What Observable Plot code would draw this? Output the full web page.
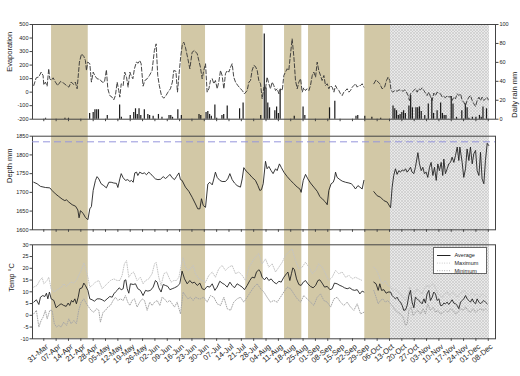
<!DOCTYPE html>
<html><head><meta charset="utf-8">
<script src="https://cdn.jsdelivr.net/npm/d3@7"></script>
<script src="https://cdn.jsdelivr.net/npm/@observablehq/plot@0.6"></script>
<style>
body{margin:0;background:#fff;}
#chart{position:relative;width:520px;height:376px;font-family:"Liberation Sans",Arial,sans-serif;}
#chart svg{position:absolute;left:0;top:0;overflow:visible;}
#legend{position:absolute;left:433px;top:247px;width:52px;height:25px;border:1px solid #666;background:#fff;}
</style></head><body><div id="chart"></div>
<script>
// day offsets are counted from 31-Mar (day 0)
const startDate = Date.UTC(2008, 2, 31);
const tickDays = d3.range(0, 253, 7);
const tickLabels = ["31-Mar","07-Apr","14-Apr","21-Apr","28-Apr","05-May","12-May","19-May","26-May","02-Jun","09-Jun","16-Jun","23-Jun","30-Jun","07-Jul","14-Jul","21-Jul","28-Jul","04-Aug","11-Aug","18-Aug","25-Aug","01-Sep","08-Sep","15-Sep","22-Sep","29-Sep","06-Oct","13-Oct","20-Oct","27-Oct","03-Nov","10-Nov","17-Nov","24-Nov","01-Dec","08-Dec"];
const xDomainDays = [-6.4, 256.1];

// shaded periods [startDay, endDay]
const bands = [[4.4,25.2],[78.1,91.7],[114.5,124.4],[136.5,146.3],[150.1,162.6],[182,196.6]];
const hatched = [[196.6,252.7]];

const evapTicks = [-200,-100,0,100,200,300,400,500];
const rainTicks = [0,20,40,60,80,100];
const depthTicks = [1600,1650,1700,1750,1800,1850];
const tempTicks = [-10,-5,0,5,10,15,20,25,30];
const targetDepth = 1835;

// Evaporation [day, value]
const evaporation = [[-5.7,49],[-4.3,106],[-2.8,113],[-1.5,148],[-0.4,123],[0,54],[0.9,74],[1.9,44],[2.8,173],[3.4,99],[4.2,86],[5.3,106],[6.6,74],[7.9,49],[9.5,79],[11.3,66],[12.9,49],[14.2,37],[15.5,74],[17,57],[17.9,74],[18.9,25],[20.2,222],[21.4,283],[22.7,264],[23.6,234],[24.2,160],[24.9,222],[26.1,210],[27,74],[28,148],[28.9,123],[30.2,99],[31.8,94],[33.1,74],[34.4,74],[35.5,165],[36.3,25],[37.4,-25],[38.7,-37],[39.7,-57],[40.6,-25],[41.6,74],[42.5,12],[43.1,-37],[43.9,62],[45,49],[45.9,148],[46.9,111],[47.8,37],[48.8,148],[49.5,123],[50.5,99],[51.4,173],[52.5,222],[53.5,214],[54.4,234],[55.2,210],[56.3,44],[57.3,86],[58.6,99],[59.9,123],[61.4,160],[62.7,308],[63.7,357],[64.6,123],[65.5,49],[66.7,-25],[68,-45],[69.3,-25],[70.4,0],[71.8,25],[72.9,74],[73.7,160],[74.9,155],[75.8,0],[76.7,136],[77.7,271],[78.6,357],
[79.4,369],[80.3,332],[81.7,246],[82.8,173],[84.1,295],[85.4,308],[87,283],[87.9,234],[88.8,185],[89.8,99],[90.7,160],[91.7,210],[92.6,0],[93.6,25],[94.5,86],[95.5,99],[96.4,62],[97.3,86],[98.3,25],[99.2,74],[100.2,160],[101.1,123],[102.1,25],[103,136],[104,160],[104.9,148],[105.9,185],[106.8,210],[107.7,111],[108.7,74],[110,49],[111.1,32],[112.5,12],[113.8,-12],[115.3,12],[116.3,74],[117.2,86],[118.1,160],[119.1,197],[120,190],[121,160],[121.9,86],[122.9,62],[123.8,-49],[124.8,37],[125.7,25],[126.6,111],[127.6,62],[128.5,25],[129.5,74],[130.4,49],[131.4,12],[132.3,25],[133.3,-12],[134.2,25],[135.2,12],[136.1,123],[137,148],[138,173],[138.9,160],[139.9,283],[140.8,394],[141.8,259],[142.7,86],[143.7,25],[144.6,74],[145.6,99],[146.5,0],[147.4,32],[148.4,12],[149.3,25],[150.3,12],[151.2,49],[152.2,123],[153.1,148],[154.1,111],[155,222],[155.9,160],[156.9,123],[157.8,86],[158.8,123],[159.7,49],[160.7,62],[161.6,25],[162.6,49],[163.5,37],[164.5,0],[165.4,49],[166.3,25],[167.3,12],[168.2,-12],[169.2,-25],[170.1,0],[171.1,12],[172,25],[173,0],[173.9,12],[174.9,37],[175.8,49],[176.7,62],[177.7,37],[178.6,49],[179.6,49],[180.5,62],[181.5,37],[184,null],
[187.1,62],[188.4,91],[189.6,74],[190.5,62],[191.8,25],[193.2,37],[194.3,86],[195.2,111],[196.2,86],[196.9,12],[197.9,0],[199,12],[200.3,7],[201.5,17],[202.6,12],[203.7,7],[204.7,17],[205.6,0],[206.6,-25],[207.3,-62],[207.9,-12],[208.8,0],[209.8,12],[210.7,25],[211.7,0],[212.6,25],[213.6,17],[214.5,32],[215.5,12],[216.4,-7],[217.3,-25],[218.3,0],[219.2,-32],[220.2,-62],[221.1,-7],[222.1,-25],[223,0],[224,-7],[224.9,-12],[225.9,-37],[226.8,-32],[227.7,-42],[228.7,-25],[229.6,-37],[230.6,-32],[231.5,-62],[232.5,-37],[233.4,-49],[234.4,-12],[235.3,-25],[236.3,-12],[237.2,-62],[238.1,-74],[239.1,-99],[240,-62],[241,-37],[241.9,-25],[242.9,-62],[243.8,-86],[244.8,-106],[245.7,-62],[246.7,-37],[247.6,-62],[248.5,-37],[249.5,-62],[250.4,-49],[251.4,-37],[252,-57]];

// Daily rain mm [day, mm]
const rain = [[1,1],[12,1],[14,1],[26,6],[28,7],[29,10],[30,10],[31,10],[36,4],[43,15],[44,2],[49,4],[51,7],[52,11],[53,5],[54,11],[55,4],[57,10],[59,5],[60,4],[62,3],[65,5],[67,2],[71,4],[72,4],[73,2],[76,10],[78,4],[88,5],[89,4],[92,7],[93,8],[94,5],[95,3],[97,15],[98,1],[101,4],[102,5],[104,14],[111,11],[113,17],[123,4],[125,90],[126,33],[127,17],[128,12],[131,9],[132,13],[133,6],[134,31],[142,3],[147,13],[148,4],[162,12],[165,19],[177,3],[178,4],[182,3],[186,2],[191,1],[198,14],[199,11],[200,9],[201,4],[202,5],[203,7],[204,9],[205,6],[207,14],[208,25],[209,12],[211,12],[212,12],[213,13],[214,8],[216,4],[218,16],[220,22],[221,6],[223,9],[225,17],[226,6],[227,4],[228,4],[231,24],[232,16],[234,2],[237,9],[239,16],[240,12],[241,1],[243,2],[245,2],[247,4],[248,2],[249,13],[251,11]];

// Depth mm [day, value]
const depth = [[-5.7,1727],[-3.8,1723],[-1.9,1716],[0.9,1713],[3.4,1712],[4.7,1705],[6.6,1696],[8.5,1689],[10.4,1682],[11.9,1678],[12.9,1680],[14.2,1674],[16.1,1667],[18,1663],[19.3,1653],[20,1632],[20.8,1651],[22.3,1644],[23.6,1633],[25,1627],[26.1,1656],[27,1662],[28,1705],[29.3,1732],[30.2,1742],[31.2,1736],[32.5,1723],[34,1718],[35.5,1712],[36.9,1727],[38.2,1727],[39.7,1725],[41.2,1724],[42,1713],[43.1,1736],[43.9,1750],[45,1739],[46.3,1732],[47.6,1734],[48.8,1729],[49.7,1732],[50.7,1727],[51.6,1752],[52.6,1754],[53.3,1745],[54.4,1754],[55.8,1750],[57.1,1752],[58.2,1747],[59.5,1754],[60.5,1750],[62,1742],[63.3,1736],[64.7,1734],[66.2,1735],[67.7,1742],[69,1737],[70.3,1742],[71.5,1748],[72.8,1739],[74.1,1734],[75.2,1742],[76.6,1752],[77.5,1734],
[78.4,1732],[80.3,1714],[82.2,1703],[84.1,1687],[86,1669],[87.3,1656],[88.5,1656],[89.4,1683],[90.4,1665],[91.7,1660],[93,1722],[94.1,1727],[95.5,1720],[96.4,1736],[97.3,1754],[98.3,1740],[99.8,1732],[101.1,1729],[103,1729],[104.3,1736],[105.5,1750],[106.8,1734],[108.1,1725],[109.6,1718],[111.5,1714],[112.5,1736],[113.4,1766],[114.7,1757],[116.3,1750],[118.1,1740],[120,1732],[121.4,1718],[122.5,1705],[123.4,1707],[124.4,1723],[125.7,1783],[126.6,1763],[127.6,1769],[128.9,1758],[130,1750],[131.4,1763],[132.3,1758],[133.6,1776],[134.6,1767],[136.1,1754],[138,1742],[139.9,1732],[141.8,1723],[143.7,1714],[145.2,1709],[145.9,1700],[147.1,1732],[148.4,1748],[149.7,1736],[151.2,1725],[153.1,1714],[155,1703],[156.5,1689],[158.4,1680],[159.7,1674],[160.7,1667],[161.6,1705],[162.9,1723],[164.1,1727],[164.8,1736],[165.4,1754],[166.3,1740],[167.9,1734],[169.2,1730],[171.1,1727],[173,1725],[174.3,1723],[175.4,1718],[176.7,1709],[178.1,1718],[179.2,1714],[180.5,1709],[181.5,1732],[184,null],
[187.1,1702],[189,1691],[190.9,1687],[192.8,1678],[194.7,1674],[196.6,1659],[197.5,1714],[198.4,1745],[199.4,1763],[200.3,1748],[201.3,1758],[202.2,1754],[203.2,1760],[204.1,1757],[205.1,1763],[206,1754],[207,1760],[207.9,1767],[208.8,1754],[209.8,1750],[210.7,1767],[212.1,1806],[213,1776],[214,1758],[214.9,1767],[215.8,1750],[216.8,1754],[217.7,1740],[218.7,1767],[219.6,1780],[220.6,1745],[221.5,1767],[222.5,1732],[223.4,1776],[224.3,1758],[225.3,1780],[226.2,1745],[226.8,1789],[227.7,1750],[228.7,1763],[229.6,1776],[230.6,1780],[231.5,1794],[232.5,1780],[233.4,1798],[234.4,1821],[235.3,1785],[235.9,1821],[237.2,1780],[238.1,1740],[239.1,1763],[240,1816],[241,1785],[241.9,1821],[242.9,1776],[243.8,1803],[244.8,1812],[245.7,1758],[246.7,1745],[247.6,1807],[248.5,1736],[249.5,1723],[250.4,1785],[251.4,1831],[252.3,1825]];

// Temperature average [day, °C]
const tempAvg = [[-5.7,5.6],[-4.2,6.6],[-2.8,4.6],[-1.9,7.7],[-0.6,8.4],[0.6,8],[1.5,9.4],[2.3,7],[3.2,9.9],[4.2,7],[5.7,6.3],[7,3.2],[8.5,4.2],[9.8,4.9],[11.3,4.2],[12.7,3.8],[13.8,5.2],[14.7,4.2],[15.7,6.3],[16.6,5.6],[17.6,7],[18.5,4.9],[19.5,7.7],[20.4,11.3],[21.7,11.7],[22.7,13.7],[23.6,12.7],[25,10.6],[26.1,7],[27.4,6.6],[28.7,6],[30.2,7],[31.8,7],[33.1,6.6],[34.4,6],[35.9,7],[37.4,8],[38.8,7.7],[39.7,9.1],[40.6,9.9],[41.6,10.6],[42.7,11.7],[43.9,10.9],[45,11.3],[45.7,14.8],[46.5,15.1],[47.3,11.3],[48.2,9.4],[49.1,13.4],[50.7,13.1],[52,13.4],[53.3,11.3],[54.8,10.6],[56.3,8.4],[57.7,10.6],[59,10.3],[60.5,10.6],[62,12],[63.3,14.8],[64.3,14.1],[65.2,11.7],[66.5,9.9],[67.7,13.1],[69,12.7],[70.3,12.3],[71.5,10.9],[72.8,11.3],[74.1,11.7],[75.6,12.3],[77.1,13.4],
[78.4,18.8],[79.8,15.5],[81.3,13.4],[82.8,14.8],[84.1,13.7],[85.4,14.1],[87,12.7],[88.5,13.7],[89.8,11.3],[91.1,10.9],[92.6,12.3],[94.1,12],[95.5,13.4],[97,10.6],[98.3,12],[99.8,14.5],[101.1,13.7],[102.5,13.1],[104,12],[105.5,14.1],[106.8,12.7],[108.1,11.7],[109.6,13.4],[111.1,12.7],[112.5,12],[113.8,10.9],[115.3,12.7],[116.8,14.8],[118.1,16.2],[119.5,15.9],[120.6,18.4],[121.9,19.4],[122.9,18.4],[123.8,16.2],[125.1,15.1],[126.3,16.2],[127.6,14.8],[128.9,15.5],[130.4,14.1],[131.9,13.4],[133.3,14.5],[134.6,14.1],[136.1,16.2],[137.6,17.7],[138.4,18.4],[139.5,14.8],[140.4,17.7],[141.2,20.2],[142.1,19.4],[143.3,15.5],[144.6,13.1],[145.9,12.7],[147.1,14.1],[148.4,14.8],[149.7,13.4],[151.2,12.3],[152.7,11.7],[154.1,12.7],[155.4,14.8],[156.5,15.1],[157.8,13.7],[159.2,12],[160.7,12.3],[162.2,10.9],[163.5,11.3],[164.8,13.7],[166.3,13.4],[167.9,12.7],[169.2,12.3],[170.5,11.7],[172,11.3],[173.5,11.7],[174.9,10.9],[176.2,10.6],[177.7,10.9],[179.2,9.1],[180.5,10.3],[181.5,9.9],[184,null],
[187.1,14.1],[188.4,13.4],[189.6,10.6],[190.5,13.4],[191.5,10.6],[192.8,10.9],[194.1,9.4],[195.2,9.9],[196.6,9.9],[197.5,8.4],[198.4,7.7],[199.4,7],[200.3,7.7],[201.3,6.3],[202.2,5.6],[203.2,4.2],[204.1,2.1],[205.1,2.3],[206,4.2],[207,8.4],[207.9,10.6],[208.8,5.6],[209.8,3.2],[210.7,7.7],[211.7,7],[212.6,6.3],[213.6,5.6],[214.5,4.9],[215.5,7],[216.4,5.2],[217.3,9.1],[218.3,10.6],[219.2,6.3],[220.2,7.7],[221.1,9.9],[222.1,9.1],[223,6.3],[224,7],[224.9,4.2],[225.9,4.2],[226.8,5.2],[227.7,4.9],[228.7,5.6],[229.6,4.6],[230.6,5.6],[231.5,6.6],[232.5,5.2],[233.4,4.9],[234.4,4.2],[235.3,2.8],[236.3,5.6],[237.2,6.3],[238.1,7],[239.1,8.4],[240,7],[241,6.3],[241.9,5.6],[242.9,7],[243.8,5.6],[244.8,4.9],[245.7,7],[246.7,5.6],[247.6,4.9],[248.5,5.6],[249.5,6.3],[250.4,5.6],[251.4,4.9]];

// Temperature maximum [day, °C]
const tempMax = [[-5.7,12],[-3.8,12.7],[-2.3,14.8],[-0.9,16],[0,13.4],[1.9,14.8],[2.8,16.2],[4.2,11.3],[5.7,9.9],[7.2,10.6],[8.5,11.3],[10,12],[11.3,13.4],[12.9,12.3],[14.2,13.4],[15.5,14.1],[17,13.7],[18.5,14.8],[19.8,17],[21.2,19.1],[22.7,22.3],[23.6,20.5],[25,16.2],[26.1,12],[27.4,12.7],[29.3,14.1],[31.2,14.8],[33.1,11.3],[34.4,12.3],[35.9,13.4],[37.8,14.8],[39.7,15.5],[41.6,14.8],[43.1,14.8],[44.4,17],[45.7,21.9],[46.9,23.3],[48.2,16.2],[49.5,17.7],[51,18.4],[52.9,14.8],[54.8,16.2],[56.3,13.4],[57.7,14.8],[59.5,15.5],[61.4,17.7],[62.8,21.9],[63.7,22.6],[65.2,16.2],[66.5,12.7],[68.1,17.7],[69.6,18.4],[70.9,16.2],[72.2,14.1],[73.7,14.8],[75.2,14.8],[76.6,16.2],[78.1,21.9],[79,24.5],[80.3,20.5],[81.7,19.1],[83.2,19.8],[84.7,21.2],[86,17.7],[87.9,15.5],
[89.8,14.8],[91.7,14.1],[93.6,17],[95.5,18.4],[97.3,16.2],[99.2,19.8],[101.1,21.2],[103,19.1],[104.9,20.5],[106.8,21.2],[108.7,17.7],[110.6,18.4],[112.5,17],[114.4,14.8],[116.3,20.5],[118.1,22.6],[120,24.8],[121.9,26.2],[123.8,21.9],[125.7,24],[127.6,20.5],[129.5,21.9],[131.4,18.4],[133.3,20.5],[135.2,22.6],[137,25.5],[138.9,26.9],[140.8,28.3],[142.7,23.3],[144.6,19.8],[146.5,20.5],[148.4,22.6],[150.3,20.5],[152.2,17.7],[154.1,19.1],[155.9,21.9],[157.8,20.5],[159.7,17.7],[161.6,14.8],[163.5,16.2],[165.4,19.1],[167.3,17.7],[169.2,18.4],[171.1,16.2],[173,17],[174.9,15.5],[176.7,16.2],[178.6,15.5],[180.5,14.8],[184,null],
[187.1,20.5],[188.4,19.4],[189.6,17.7],[190.9,14.8],[192.2,13.4],[193.7,14.8],[195,12.7],[196.6,12],[198.1,10.6],[199.4,11.3],[200.7,9.9],[202.2,9.1],[203.7,7.7],[205.1,6.3],[206.4,8.4],[207.5,12],[208.8,9.9],[210.2,9.1],[211.7,11.3],[213.2,9.9],[214.5,9.1],[215.8,11.3],[217.3,12.7],[218.9,12],[220.2,13.4],[221.5,12.7],[223,9.9],[224.5,8.4],[225.9,7.7],[227.2,9.1],[228.7,9.9],[230.2,8.4],[231.5,9.9],[232.9,9.1],[234.4,7.7],[235.9,9.1],[237.2,9.9],[238.5,10.6],[240,9.1],[241.5,8.4],[242.9,9.9],[244.2,8.4],[245.7,9.1],[247.2,7.7],[248.5,9.1],[249.9,8.4],[251.4,7.7]];

// Temperature minimum [day, °C]
const tempMin = [[-5.7,0.6],[-4.2,2.1],[-2.8,-5],[-1.5,-2.2],[-0.4,-0.8],[0.9,2.1],[1.9,-1.5],[3.4,2.1],[4.7,2.1],[6,-3.6],[7.2,-5],[8.5,-4.3],[9.8,-5],[11.3,-2.9],[12.9,-4.3],[14.2,-1.5],[15.5,-3.6],[17,-2.2],[18.5,-3.6],[19.8,2.1],[21.2,5.6],[22.7,7],[24.2,4.9],[25.5,3.5],[26.8,2.1],[28.4,1.3],[29.9,2.8],[31.2,2.1],[32.1,-2.9],[33.6,1.3],[35,2.1],[36.3,3.5],[37.8,4.2],[39.3,6.3],[40.6,7.7],[42,6.3],[43.5,7],[45,6.3],[46.3,8.4],[47.6,5.6],[48.8,4.2],[50.1,6.3],[51.4,7],[52.9,3.5],[54.4,5.6],[55.8,7],[57.1,6.3],[58.6,2.1],[60.1,5.6],[61.4,4.2],[62.8,5.6],[64.3,6.3],[65.8,4.2],[67.1,7.7],[68.4,7],[69.9,5.6],[71.5,6.3],[72.8,4.9],[74.1,3.5],[75.6,5.6],[77.5,0.6],[79,9.9],[80.3,8.4],[81.7,7],[83.2,7.7],[84.7,6.3],[86,7.7],[87.9,7],
[88.8,7],[90.7,7.7],[92.6,5.6],[94.5,8.4],[96.4,7.7],[98.3,4.9],[100.2,4.2],[102.1,7.7],[104,2.8],[105.9,2.1],[107.7,5.6],[109.6,7],[111.5,7.7],[113.4,5.6],[115.3,7.7],[117.2,9.9],[119.1,12],[121,13.4],[122.9,11.3],[124.8,9.9],[126.6,7.7],[128.5,5.6],[130.4,6.3],[132.3,5.6],[134.2,7.7],[136.1,9.9],[138,12],[139.9,11.3],[141.8,9.1],[143.7,7],[145.6,5.6],[147.4,8.4],[149.3,7],[151.2,5.6],[153.1,4.2],[155,7.7],[156.9,9.1],[158.8,6.3],[160.7,5.6],[162.6,3.5],[164.5,7],[166.3,7.7],[168.2,5.6],[170.1,4.2],[172,5.6],[173.9,3.5],[175.8,2.1],[177.7,4.9],[179.6,0.6],[181.5,1.3],[184,null],
[187.1,10.6],[188.4,7.7],[189.6,4.9],[190.9,6.3],[192.2,7],[193.7,5.6],[195,6.3],[196.6,4.9],[198.1,3.5],[199.4,2.1],[200.7,1.3],[202.2,0.6],[203.7,-0.8],[205.1,-4.3],[206,-3.6],[207,2.1],[208.3,3.5],[209.4,-0.1],[210.7,1.3],[212,2.1],[213.6,0.6],[215.1,2.8],[216.4,0.6],[217.7,4.9],[219.2,2.1],[220.8,3.5],[222.1,1.3],[223.4,2.1],[224.9,0.6],[226.4,1.3],[227.7,2.1],[229.1,1.3],[230.6,2.8],[232.1,2.1],[233.4,0.6],[234.7,1.3],[236.3,2.8],[237.8,2.1],[239.1,3.5],[240.4,2.1],[241.9,1.3],[243.4,2.8],[244.8,1.3],[246.1,2.1],[247.6,2.8],[249.1,2.1],[250.4,2.8],[251.4,2.1]];

const legendItems = ["Average","Maximum","Minimum"];

// ---------- drawing ----------
const day = d => new Date(startDate + d * 864e5);
const X = d => day(d[0]);
const Y = d => d[1];
const FONT = '"Liberation Sans", Arial, sans-serif';
const AXIS = "#444";
const MAXC = "#c4c4c4", MINC = "#a6a6a6", DOT = "0.9,1.5";
const common = {
  width: 520, height: 376, marginLeft: 32, marginRight: 25,
  x: {type: "utc", domain: xDomainDays.map(day)},
  style: {background: "transparent", overflow: "visible", fontFamily: FONT, fontSize: "5.5px", color: "#222"}
};
const tickDates = tickDays.map(day);
const labelOf = v => tickLabels[Math.round((+v - startDate) / 864e5 / 7)];
const xTicks = () => Plot.axisX({ticks: tickDates, tickSize: 2.5, tickFormat: () => "", label: null, stroke: AXIS});
const yAxis = (ticks, extra = {}) => Plot.axisY({ticks, tickSize: 2.5, tickPadding: 1.5, label: null, stroke: AXIS, tickFormat: v => String(v), ...extra});
const chart = document.getElementById("chart");

// background: shaded periods spanning all three panels
const bg = Plot.plot({...common, x: {...common.x, axis: null}, marginTop: 24, marginBottom: 37.7,
  marks: [
    Plot.rect(bands, {x1: d => day(d[0]), x2: d => day(d[1]), fill: "#d2c8a6"}),
    Plot.rect(hatched, {x1: d => day(d[0]), x2: d => day(d[1]), fill: "url(#hatch)"})
  ]});
const defs = d3.select(bg).insert("defs", ":first-child");
const pat = defs.append("pattern").attr("id", "hatch").attr("width", 3).attr("height", 3).attr("patternUnits", "userSpaceOnUse");
pat.append("rect").attr("width", 3).attr("height", 3).attr("fill", "#e9e9e9");
pat.append("path").attr("d", "M0,0L3,3M3,0L0,3").attr("stroke", "#c4c4c4").attr("stroke-width", 0.6);
chart.appendChild(bg);

// panel 1: evaporation + rain
const rainY = v => -200 + 7 * v;
const p1 = Plot.plot({...common, marginTop: 24, marginBottom: 376 - 118.7,
  y: {domain: [-200, 500]},
  marks: [
    Plot.frame({stroke: AXIS}),
    Plot.ruleX(rain, {x: X, y1: -200, y2: d => rainY(d[1]), stroke: "#1a1a1a", strokeWidth: 1.2}),
    Plot.line(evaporation, {x: X, y: Y, stroke: "#333", strokeWidth: 0.9, strokeDasharray: "4,2.2"}),
    yAxis(evapTicks),
    yAxis(rainTicks.map(rainY), {anchor: "right", tickFormat: v => String(Math.round((v + 200) / 7))}),
    xTicks(),
    Plot.text(["Evaporation"], {frameAnchor: "left", dx: -22.5, rotate: -90, fontSize: 7.5}),
    Plot.text(["Daily rain mm"], {frameAnchor: "right", dx: 19.5, rotate: -90, fontSize: 7.5})
  ]});
chart.appendChild(p1);

// panel 2: depth
const p2 = Plot.plot({...common, marginTop: 135.7, marginBottom: 376 - 229.3,
  y: {domain: [1600, 1850]},
  marks: [
    Plot.frame({stroke: AXIS}),
    Plot.ruleY([targetDepth], {stroke: "#9595dd", strokeWidth: 1, strokeDasharray: "7,4"}),
    Plot.line(depth, {x: X, y: Y, stroke: "#222", strokeWidth: 0.9}),
    yAxis(depthTicks),
    xTicks(),
    Plot.text(["Depth mm"], {frameAnchor: "left", dx: -22.5, rotate: -90, fontSize: 7.5})
  ]});
chart.appendChild(p2);

// panel 3: temperature
const p3 = Plot.plot({...common, marginTop: 244.3, marginBottom: 37.7,
  y: {domain: [-10, 30]},
  marks: [
    Plot.frame({stroke: AXIS}),
    Plot.line(tempMax, {x: X, y: Y, stroke: MAXC, strokeWidth: 1, strokeDasharray: DOT}),
    Plot.line(tempMin, {x: X, y: Y, stroke: MINC, strokeWidth: 1, strokeDasharray: DOT}),
    Plot.line(tempAvg, {x: X, y: Y, stroke: "#222", strokeWidth: 0.9}),
    yAxis(tempTicks),
    xTicks(),
    Plot.text(tickDates, {x: d => d, frameAnchor: "bottom", text: labelOf, dx: 1.5, dy: 4.5, rotate: -40, textAnchor: "end", fontSize: 7.6, lineAnchor: "top"}),
    Plot.text(["Temp °C"], {frameAnchor: "left", dx: -21, rotate: -90, fontSize: 7.5})
  ]});
chart.appendChild(p3);

// legend
const legend = d3.select(chart).append("div").attr("id", "legend");
const lsvg = legend.append("svg").attr("width", 52).attr("height", 25).style("position", "static");
const lstyles = [{stroke: "#222", dash: null}, {stroke: MAXC, dash: DOT}, {stroke: MINC, dash: DOT}];
legendItems.forEach((name, i) => {
  const y = 7.5 + i * 7.6;
  lsvg.append("line").attr("x1", 3).attr("x2", 16.5).attr("y1", y).attr("y2", y)
    .attr("stroke", lstyles[i].stroke).attr("stroke-width", 1).attr("stroke-dasharray", lstyles[i].dash);
  lsvg.append("text").attr("x", 20.5).attr("y", y).attr("dy", "0.35em").attr("font-size", 5.5)
    .attr("font-family", FONT).attr("fill", "#222").text(name);
});
</script></body></html>
